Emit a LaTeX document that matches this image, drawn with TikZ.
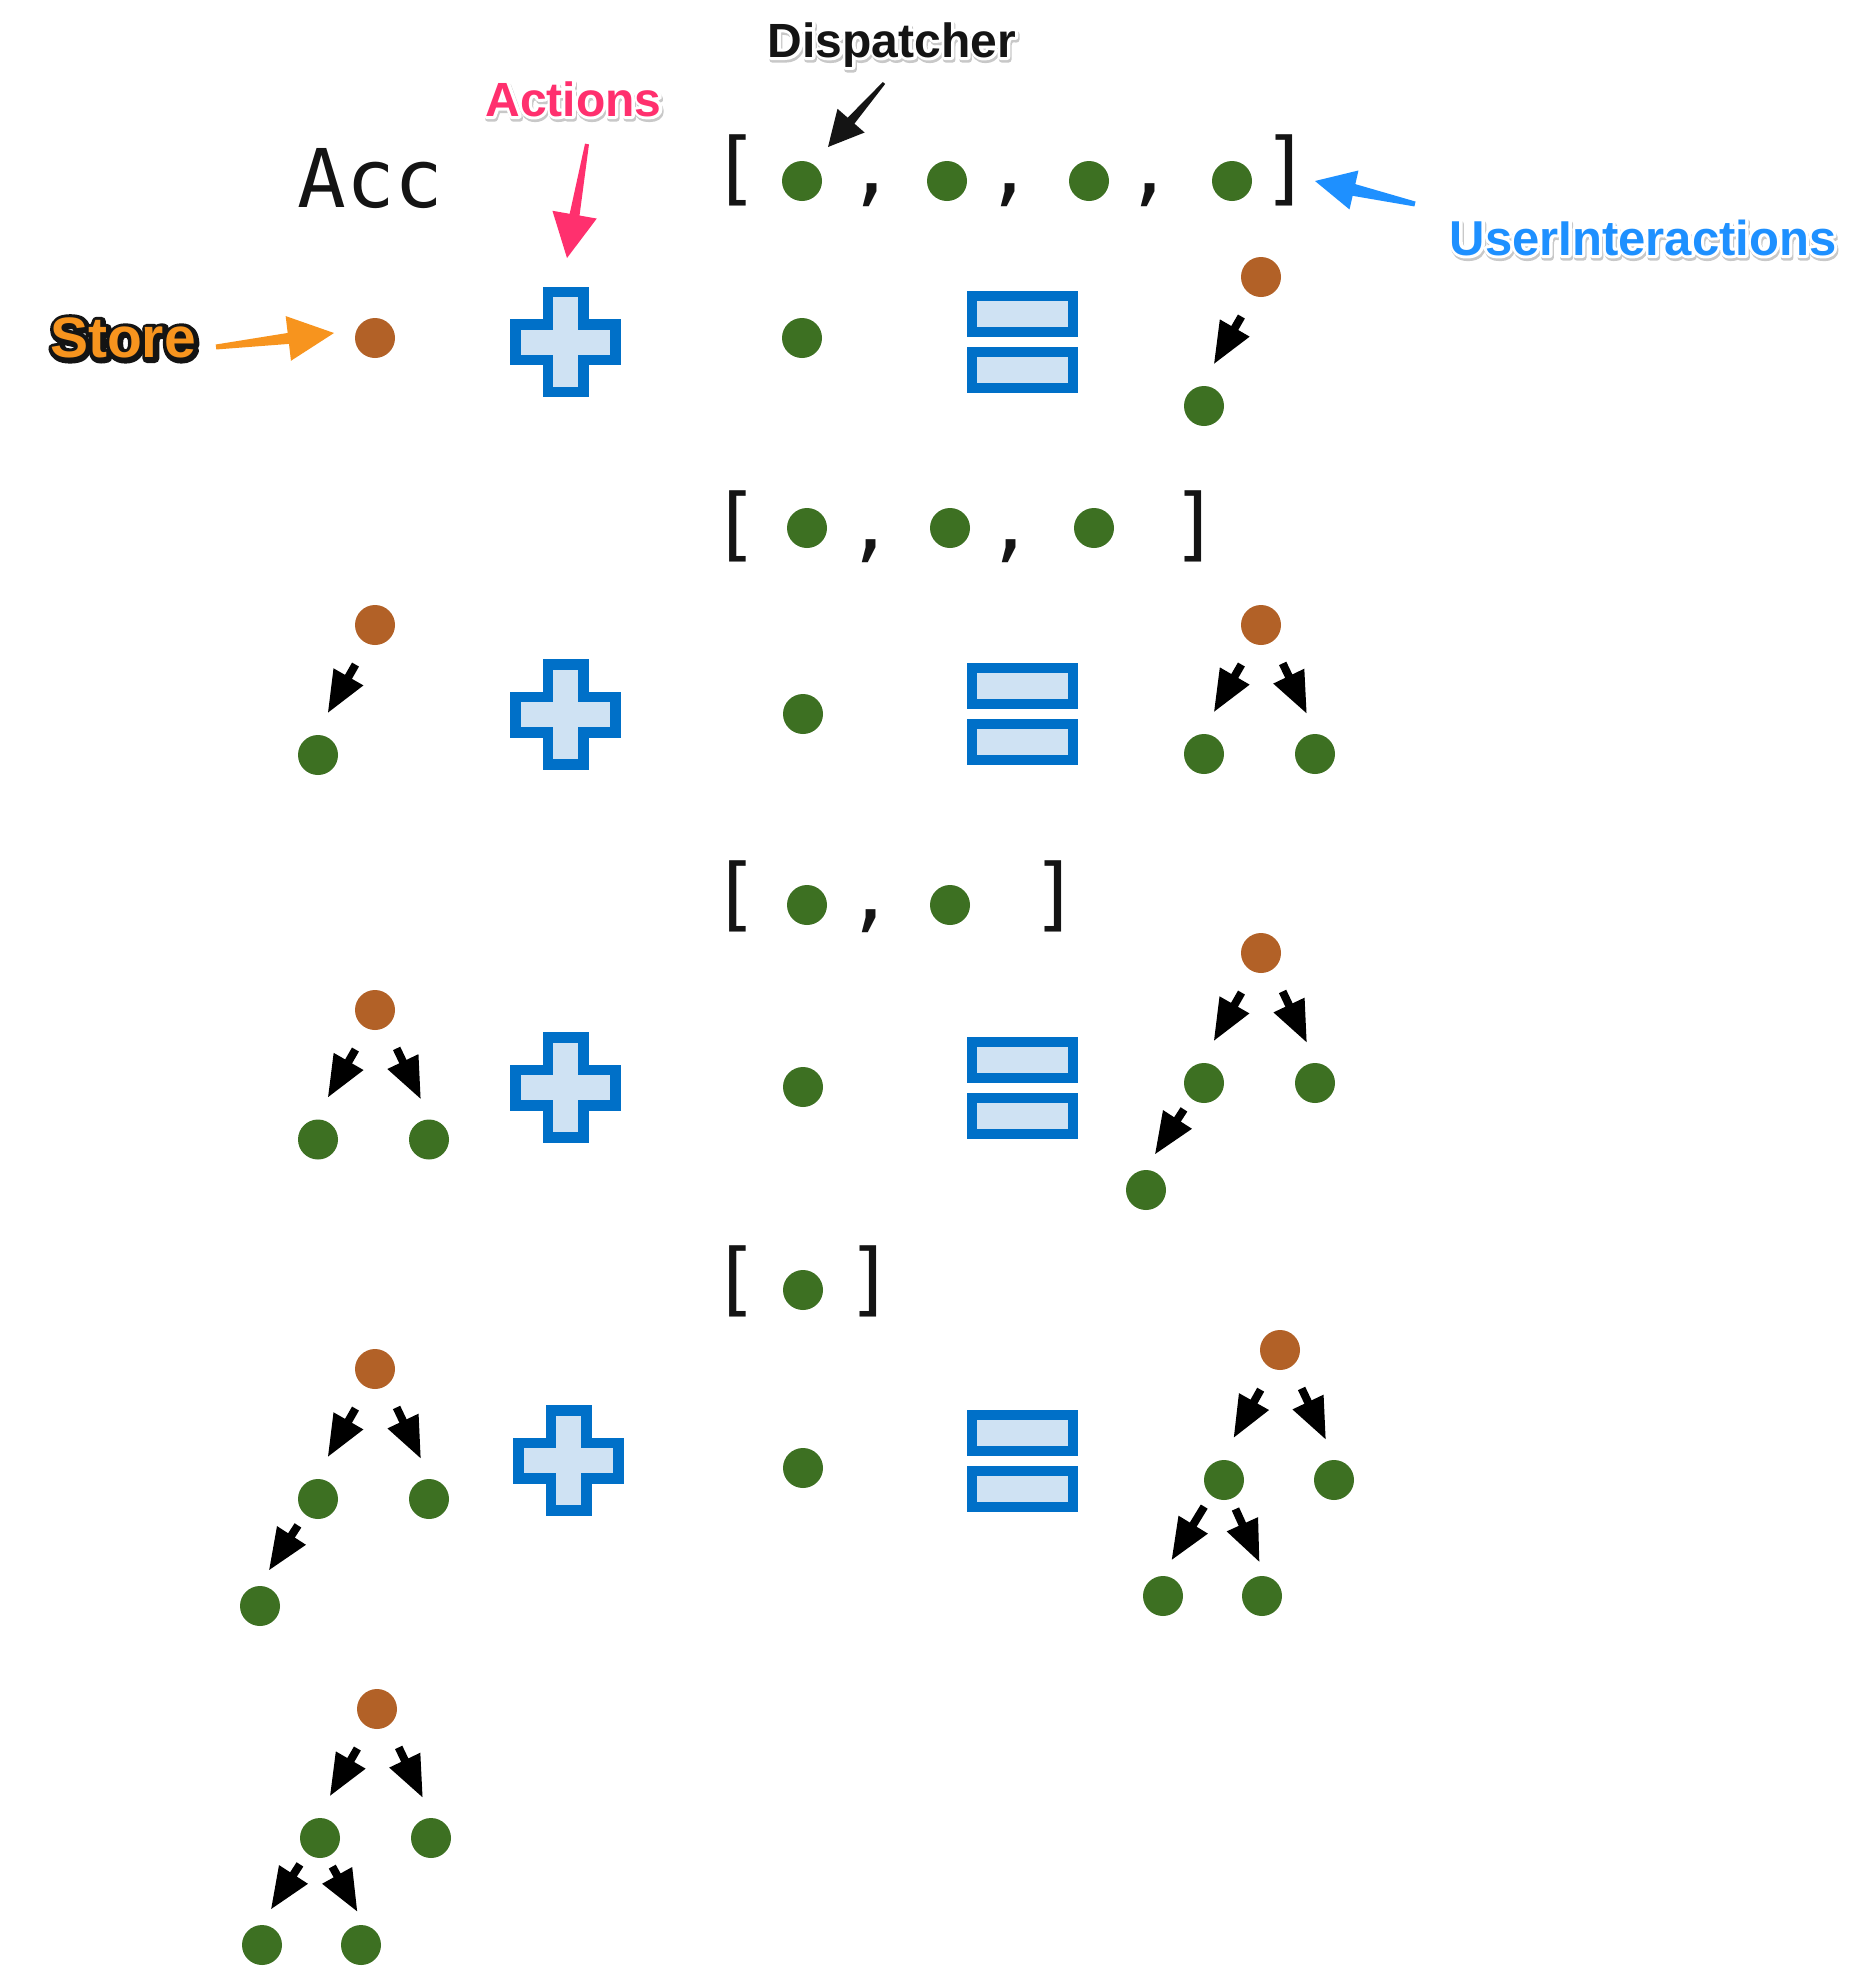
\documentclass[tikz,border=0pt]{standalone}
\usepackage{fontspec}
\setmainfont{Liberation Sans}
\newfontfamily\monofnt{DejaVu Sans Mono}
\usetikzlibrary{arrows.meta,calc}
\definecolor{dotgreen}{RGB}{61,112,34}
\definecolor{dotbrown}{RGB}{178,97,39}
\definecolor{opblue}{RGB}{0,112,200}
\definecolor{opfill}{RGB}{207,226,243}
\definecolor{actpink}{RGB}{255,48,110}
\definecolor{uiblue}{RGB}{30,144,255}
\definecolor{storeorange}{RGB}{247,148,30}
\definecolor{inkblack}{RGB}{20,20,20}
\definecolor{shadowgray}{RGB}{200,200,200}

% stroked copy of a text (behind), shifted: colour, stroke width, x shift, y drop, text
\newcommand\strokecopy[5]{%
  \makebox[0pt][l]{\hspace*{#3}\raisebox{-#4}{\special{pdf:literal direct #2 w 1 j 2 Tr}\textcolor{#1}{#5}\special{pdf:literal direct 0 Tr}}}}
% outlined text with a soft shadow: outline colour, fill colour, text
\newcommand\haloed[3]{\strokecopy{shadowgray}{6}{1.2pt}{2.6pt}{#3}\strokecopy{#1}{6}{0pt}{0pt}{#3}\textcolor{#2}{#3}}

% tapered arrow: colour, tail, tip, head length, head half width, tail half width, shaft half width
\newcommand\taperarrow[7]{%
  \coordinate (#2-base) at ($(#3)!#4!(#2)$);
  \fill[#1] ($(#2)!#6!90:(#3)$) -- ($(#2-base)!#7!90:(#3)$) -- ($(#2-base)!#5!90:(#3)$)
    -- (#3) -- ($(#2-base)!#5!-90:(#3)$) -- ($(#2-base)!#7!-90:(#3)$) -- ($(#2)!#6!-90:(#3)$) -- cycle;
}

\tikzset{
  gdot/.style={circle,fill=dotgreen,minimum size=40pt,inner sep=0pt},
  bdot/.style={circle,fill=dotbrown,minimum size=40pt,inner sep=0pt},
  tarr/.style={line width=8pt,-{Triangle[length=42pt,width=32pt]}},
  leftone/.style={tarr,shorten <=24pt,shorten >=25pt},
  rightone/.style={tarr,shorten <=24pt,shorten >=22pt},
  lefttwo/.style={tarr,shorten <=13pt,shorten >=18pt},
  righttwo/.style={tarr,shorten <=11pt,shorten >=15pt},
  monotxt/.style={font=\monofnt\fontsize{80}{96}\selectfont,inner sep=0pt,anchor=base,text=inkblack},
  labeltxt/.style={font=\bfseries\fontsize{48}{58}\selectfont,inner sep=0pt,anchor=base},
  pics/plusbox/.style={code={
    \draw[opblue,fill=opfill,line width=10.5pt]
      (-17.75,-50) -- (17.75,-50) -- (17.75,-17.75) -- (50,-17.75) -- (50,17.75) -- (17.75,17.75)
      -- (17.75,50) -- (-17.75,50) -- (-17.75,17.75) -- (-50,17.75) -- (-50,-17.75) -- (-17.75,-17.75) -- cycle;
  }},
  pics/eqbox/.style={code={
    \draw[opblue,fill=opfill,line width=10pt] (-50.5,-46) rectangle (50.5,-10);
    \draw[opblue,fill=opfill,line width=10pt] (-50.5,10) rectangle (50.5,46);
  }}
}

\begin{document}
\begin{tikzpicture}[x=1pt,y=-1pt]
\fill[white] (0,0) rectangle (1860,1966);
\useasboundingbox (0,0) rectangle (1860,1966);

% ---- labels ----
\node[labeltxt] (disp) at (892,57) {\haloed{white}{inkblack}{Dispatcher}};
\node[labeltxt] (act) at (573.5,116) {\haloed{white}{actpink}{Actions}};
\node[labeltxt,font=\bfseries\fontsize{49}{58}\selectfont] (ui) at (1643,255) {\haloed{white}{uiblue}{UserInteractions}};
\node[labeltxt,font=\bfseries\fontsize{57}{66}\selectfont] (store) at (123,357) {\strokecopy{inkblack}{9}{1pt}{1.5pt}{Store}\textcolor{storeorange}{Store}};

\node[monotxt,font=\monofnt\fontsize{81}{96}\selectfont] (acc) at (370.5,207) {Acc};

% ---- label arrows ----
\coordinate (dispT) at (884,83);  \coordinate (dispH) at (828,147);
\taperarrow{inkblack}{dispT}{dispH}{35pt}{18pt}{1.5pt}{4.5pt}
\coordinate (actT) at (587,144);  \coordinate (actH) at (567,258);
\taperarrow{actpink}{actT}{actH}{44pt}{22.5pt}{2pt}{5pt}
\coordinate (stT) at (216,347);   \coordinate (stH) at (334,333);
\taperarrow{storeorange}{stT}{stH}{46pt}{22.5pt}{2.5pt}{5.5pt}
\coordinate (uiT) at (1415,204);  \coordinate (uiH) at (1315,181);
\taperarrow{uiblue}{uiT}{uiH}{40pt}{20pt}{2.5pt}{6pt}

% ---- list row 0 ----
\node[monotxt] (lb0) at (735.5,195.6) {[};
\node[gdot] (q0a) at (802,181) {};
\node[monotxt] (c0a) at (872,195.6) {,};
\node[gdot] (q0b) at (947,181) {};
\node[monotxt] (c0b) at (1010,195.6) {,};
\node[gdot] (q0c) at (1089,181) {};
\node[monotxt] (c0c) at (1150,195.6) {,};
\node[gdot] (q0d) at (1232,181) {};
\node[monotxt] (rb0) at (1287,195.6) {]};

% ---- row 1 ----
\node[bdot] (s1) at (375,338) {};
\pic at (565.5,342) {plusbox};
\node[gdot] (m1) at (802,338) {};
\pic at (1022.5,342) {eqbox};
\node[bdot] (r1p) at (1261,277) {};
\node[gdot] (r1a) at (1204,406) {};
\draw[leftone] (r1p.248) -- (r1a.98);

% ---- list row 2 ----
\node[monotxt] (lb2) at (735.5,551.3) {[};
\node[gdot] (q2a) at (807,528) {};
\node[monotxt] (c2a) at (871,551.3) {,};
\node[gdot] (q2b) at (950,528) {};
\node[monotxt] (c2b) at (1011,551.3) {,};
\node[gdot] (q2c) at (1094,528) {};
\node[monotxt] (rb2) at (1195.5,551.3) {]};

% ---- row 3 ----
\node[bdot] (l3p) at (375,625) {};
\node[gdot] (l3a) at (318,755) {};
\draw[leftone] (l3p.248) -- (l3a.98);
\pic at (565.5,714.5) {plusbox};
\node[gdot] (m3) at (803,714) {};
\pic at (1022.5,714) {eqbox};
\node[bdot] (r3p) at (1261,625) {};
\node[gdot] (r3a) at (1204,754) {};
\node[gdot] (r3b) at (1315,754) {};
\draw[leftone] (r3p.248) -- (r3a.98);
\draw[rightone] (r3p.304) -- (r3b.86);

% ---- list row 4 ----
\node[monotxt] (lb4) at (735.5,921.3) {[};
\node[gdot] (q4a) at (807,905) {};
\node[monotxt] (c4a) at (871,921.3) {,};
\node[gdot] (q4b) at (950,905) {};
\node[monotxt] (rb4) at (1055.5,921.3) {]};

% ---- row 5 ----
\node[bdot] (l5p) at (375,1010) {};
\node[gdot] (l5a) at (318,1139.5) {};
\node[gdot] (l5b) at (429,1139.5) {};
\draw[leftone] (l5p.248) -- (l5a.98);
\draw[rightone] (l5p.304) -- (l5b.86);
\pic at (565.5,1087.5) {plusbox};
\node[gdot] (m5) at (803,1087) {};
\pic at (1022.5,1088) {eqbox};
\node[bdot] (r5p) at (1261,953) {};
\node[gdot] (r5a) at (1204,1083) {};
\node[gdot] (r5b) at (1315,1083) {};
\node[gdot] (r5c) at (1146,1190) {};
\draw[leftone] (r5p.248) -- (r5a.98);
\draw[rightone] (r5p.304) -- (r5b.86);
\draw[lefttwo] (r5a.230) -- (r5c.93);

% ---- list row 6 ----
\node[monotxt] (lb6) at (735.5,1306.3) {[};
\node[gdot] (q6a) at (803,1290) {};
\node[monotxt] (rb6) at (870.5,1306.3) {]};

% ---- row 7 ----
\node[bdot] (l7p) at (375,1369) {};
\node[gdot] (l7a) at (318,1499) {};
\node[gdot] (l7b) at (429,1499) {};
\node[gdot] (l7c) at (260,1606) {};
\draw[leftone] (l7p.248) -- (l7a.98);
\draw[rightone] (l7p.304) -- (l7b.86);
\draw[lefttwo] (l7a.230) -- (l7c.93);
\pic at (568.5,1460.5) {plusbox};
\node[gdot] (m7) at (803,1468) {};
\pic at (1022.5,1460.5) {eqbox};
\node[bdot] (r7p) at (1280,1350) {};
\node[gdot] (r7a) at (1224,1480) {};
\node[gdot] (r7b) at (1334,1480) {};
\node[gdot] (r7c) at (1163,1596) {};
\node[gdot] (r7d) at (1262,1596) {};
\draw[leftone] (r7p.248) -- (r7a.98);
\draw[rightone] (r7p.304) -- (r7b.86);
\draw[lefttwo] (r7a.230) -- (r7c.93);
\draw[righttwo] (r7a.290) -- (r7d.79);

% ---- row 8 ----
\node[bdot] (l8p) at (377,1709) {};
\node[gdot] (l8a) at (320,1838) {};
\node[gdot] (l8b) at (431,1838) {};
\node[gdot] (l8c) at (262,1945) {};
\node[gdot] (l8d) at (361,1945) {};
\draw[leftone] (l8p.248) -- (l8a.98);
\draw[rightone] (l8p.304) -- (l8b.86);
\draw[lefttwo] (l8a.230) -- (l8c.93);
\draw[righttwo] (l8a.290) -- (l8d.79);
\end{tikzpicture}
\end{document}
